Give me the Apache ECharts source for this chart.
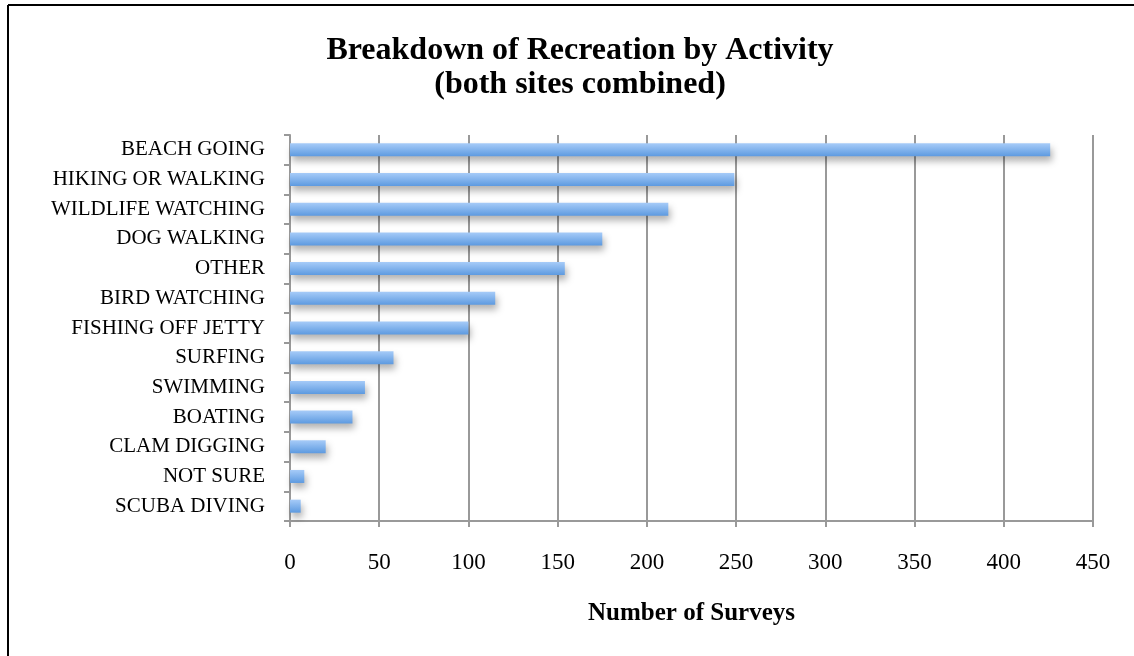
<!DOCTYPE html>
<html>
<head>
<meta charset="utf-8">
<script src="https://cdn.jsdelivr.net/npm/echarts@6/dist/echarts.min.js"></script>
<style>
html,body{margin:0;padding:0;background:#fff;}
#chart{width:1134px;height:656px;}
</style>
</head>
<body>
<div id="chart"></div>
<script>
const categories = ["BEACH GOING","HIKING OR WALKING","WILDLIFE WATCHING","DOG WALKING","OTHER","BIRD WATCHING","FISHING OFF JETTY","SURFING","SWIMMING","BOATING","CLAM DIGGING","NOT SURE","SCUBA DIVING"];
const surveys = [426, 249, 212, 175, 154, 115, 100, 58, 42, 35, 20, 8, 6];
const xTicks = [0, 50, 100, 150, 200, 250, 300, 350, 400, 450];

const FONT = '"Liberation Serif", "DejaVu Serif", serif';
const chart = echarts.init(document.getElementById('chart'));
chart.setOption({
  animation: false,
  backgroundColor: '#fff',
  title: {
    text: 'Breakdown of Recreation by Activity\n(both sites combined)',
    left: 575, top: 29, textAlign: 'center',
    textStyle: { fontFamily: FONT, fontWeight: 'bold', fontSize: 32, lineHeight: 34, color: '#000' }
  },
  graphic: [
    { type: 'line', shape: { x1: 8, y1: 5, x2: 1134, y2: 5 }, style: { stroke: '#000', lineWidth: 2 } },
    { type: 'line', shape: { x1: 8, y1: 5, x2: 8, y2: 656 }, style: { stroke: '#000', lineWidth: 2 } }
  ],
  grid: { left: 290, top: 135, width: 803, height: 386, containLabel: false },
  xAxis: {
    type: 'value', min: xTicks[0], max: xTicks[xTicks.length - 1], interval: 50,
    name: 'Number of Surveys', nameLocation: 'middle', nameGap: 80,
    nameTextStyle: { fontFamily: FONT, fontWeight: 'bold', fontSize: 25, color: '#000' },
    axisLine: { show: true, lineStyle: { color: '#999', width: 2 } },
    axisTick: { show: true, length: 6, lineStyle: { color: '#999', width: 2 } },
    axisLabel: { margin: 30, fontFamily: FONT, fontSize: 23, color: '#000' },
    splitLine: { show: true, lineStyle: { color: '#999', width: 2 } }
  },
  yAxis: {
    type: 'category', data: categories, inverse: true,
    axisLine: { show: true, lineStyle: { color: '#999', width: 2 } },
    axisTick: { show: true, length: 6, lineStyle: { color: '#999', width: 2 } },
    axisLabel: { margin: 25, fontFamily: FONT, fontSize: 21, color: '#000' },
    splitLine: { show: false }
  },
  series: [{
    type: 'bar', data: surveys, barWidth: 13,
    itemStyle: {
      color: new echarts.graphic.LinearGradient(0, 0, 0, 1, [
        { offset: 0, color: '#a6cbf8' },
        { offset: 1, color: '#5d9ae0' }
      ]),
      shadowColor: 'rgba(0,0,0,0.3)', shadowBlur: 7, shadowOffsetX: 2, shadowOffsetY: 5
    }
  }]
});
</script>
</body>
</html>
